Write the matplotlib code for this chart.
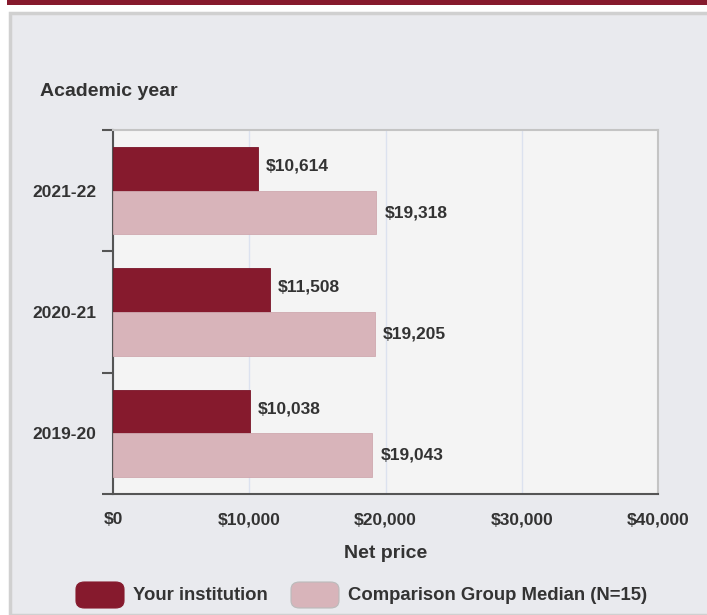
import matplotlib.pyplot as plt
from matplotlib.patches import FancyBboxPatch, Rectangle
from matplotlib.ticker import FuncFormatter, FixedLocator

plt.rcParams['font.family'] = ['Liberation Sans', 'DejaVu Sans']

years = ['2021-22', '2020-21', '2019-20']
your_inst = [10614, 11508, 10038]
comparison = [19318, 19205, 19043]
series_names = ['Your institution', 'Comparison Group Median (N=15)']
x_ticks = [0, 10000, 20000, 30000, 40000]

dark = '#861a2d'
light = '#d8b4ba'
txt = '#333333'

W, H = 707, 615
fig = plt.figure(figsize=(W / 100, H / 100), dpi=100)
fig.patch.set_facecolor('white')

# page chrome: top bar and grey panel (behind the axes)
fig.add_artist(Rectangle((7 / W, 1 - 5 / H), 1, 5 / H, transform=fig.transFigure,
                         facecolor=dark, edgecolor='none', zorder=-2))
fig.add_artist(Rectangle((10 / W, 0), 1, 1 - 13 / H, transform=fig.transFigure,
                         facecolor='#e9eaee', edgecolor='#d0d0d0', linewidth=2.5, zorder=-2))

ax = fig.add_axes([113 / W, 121 / H, 545 / W, 364 / H])
ax.set_facecolor('#f4f4f4')

pos = list(range(len(years)))
h = 0.36
ax.barh([p - h / 2 for p in pos], your_inst, height=h, color=dark,
        edgecolor='#7a1528', linewidth=0.6, zorder=3)
ax.barh([p + h / 2 for p in pos], comparison, height=h, color=light,
        edgecolor='#cfa8af', linewidth=0.6, zorder=3)

for p, v in zip(pos, your_inst):
    ax.annotate('${:,}'.format(v), (v, p - h / 2), xytext=(6, 2), textcoords='offset points',
                va='center', ha='left', fontsize=12.5, fontweight='bold', color=txt)
for p, v in zip(pos, comparison):
    ax.annotate('${:,}'.format(v), (v, p + h / 2), xytext=(6, 0), textcoords='offset points',
                va='center', ha='left', fontsize=12.5, fontweight='bold', color=txt)

ax.set_xlim(0, 40000)
ax.set_ylim(len(years) - 0.5, -0.5)
ax.xaxis.set_major_locator(FixedLocator(x_ticks))
ax.xaxis.set_major_formatter(FuncFormatter(lambda v, _: '${:,.0f}'.format(v)))
ax.tick_params(axis='x', length=0, pad=13, labelsize=12.5, labelcolor=txt)
for lab in ax.get_xticklabels():
    lab.set_fontweight('bold')

ax.set_yticks(pos)
ax.set_yticklabels(years, fontweight='bold')
ax.tick_params(axis='y', which='major', length=0, pad=12, labelsize=12.5, labelcolor=txt)
ax.set_yticks([p - 0.5 for p in pos] + [len(years) - 0.5], minor=True)
ax.tick_params(axis='y', which='minor', length=8, width=1.5, color='#555555')

ax.grid(axis='x', color='#dce2ef', linewidth=1, zorder=0)
for s in ['top', 'right']:
    ax.spines[s].set_color('#c4c4c4')
    ax.spines[s].set_linewidth(1.5)
for s in ['left', 'bottom']:
    ax.spines[s].set_color('#555555')
    ax.spines[s].set_linewidth(1.5)

ax.set_xlabel('Net price', fontsize=14, fontweight='bold', color=txt, labelpad=13)
fig.text(40 / W, 1 - 91 / H, 'Academic year', fontsize=14, fontweight='bold',
         color=txt, ha='left', va='center')

# legend
for x0, col, name, tx in [(76, dark, series_names[0], 133), (291, light, series_names[1], 348)]:
    fig.add_artist(FancyBboxPatch((x0 / W, 1 - 608 / H), 48 / W, 26 / H,
                                  boxstyle='round,pad=0,rounding_size=0.012',
                                  transform=fig.transFigure, facecolor=col,
                                  edgecolor='#bbbbbb' if col == light else col, linewidth=0.8))
    fig.text(tx / W, 1 - 595 / H, name, fontsize=13.3, fontweight='bold', color=txt,
             ha='left', va='center')

fig.savefig('out.png', dpi=100, facecolor=fig.get_facecolor())
